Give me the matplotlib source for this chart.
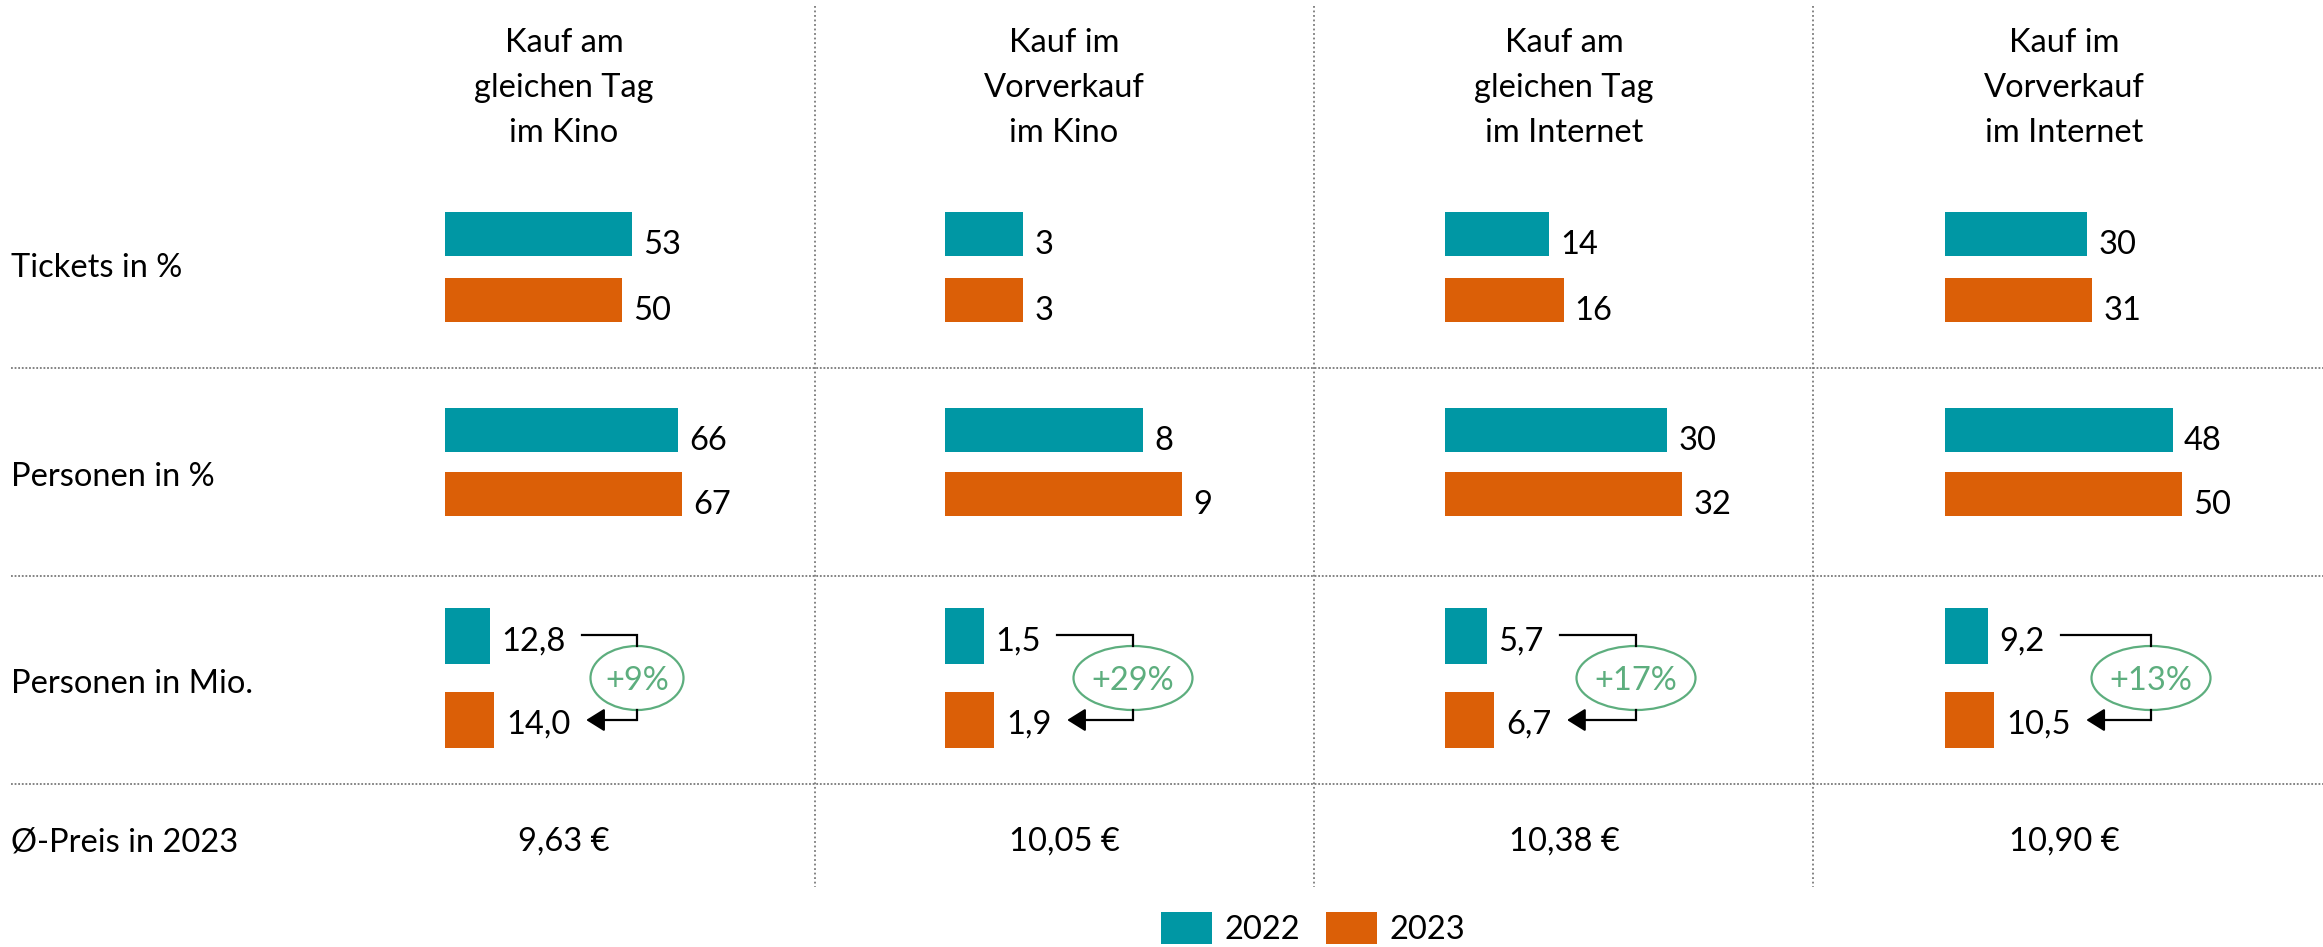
import matplotlib.pyplot as plt
from matplotlib.patches import Ellipse, Patch

plt.rcParams['font.family'] = ['Lato', 'DejaVu Sans']

W, H = 2323, 947

# data
headers = ['Kauf am\ngleichen Tag\nim Kino', 'Kauf im\nVorverkauf\nim Kino',
           'Kauf am\ngleichen Tag\nim Internet', 'Kauf im\nVorverkauf\nim Internet']
row_labels = ['Tickets in %', 'Personen in %', 'Personen in Mio.', 'Ø-Preis in 2023']
years = ['2022', '2023']
tickets_2022 = [53, 3, 14, 30]
tickets_2023 = [50, 3, 16, 31]
persons_2022 = [66, 7.6, 30, 48]
persons_2023 = [67, 9.1, 32, 50]
mio_2022 = [12.8, 1.5, 5.7, 9.2]
mio_2023 = [14.0, 1.9, 6.7, 10.5]
growth = [9, 29, 17, 13]
price_2023 = [9.63, 10.05, 10.38, 10.90]

TEAL = '#0097a4'
ORANGE = '#db5f07'
GREEN = '#5dae7e'
GRID = '#7a7a7a'
FS = 23.5


def de(v, nd):
    return f'{v:.{nd}f}'.replace('.', ',')


fig = plt.figure(figsize=(W / 100, H / 100), dpi=100)
ax = fig.add_axes([0, 0, 1, 1])
ax.set_xlim(0, W)
ax.set_ylim(H, 0)
ax.axis('off')


def px_axes(x0, y0, x1, y1):
    # axes over a pixel box, y counted from the top
    a = fig.add_axes([x0 / W, 1 - y1 / H, (x1 - x0) / W, (y1 - y0) / H])
    a.set_ylim(y1, y0)
    a.axis('off')
    return a


centers = [564, 1064, 1564, 2064]
corner_dx = [73, 69, 72, 87]
ell_w = [93, 119, 119, 119]

# grid
for y in [368, 576, 784]:
    ax.plot([11, W], [y, y], color=GRID, lw=1.3, ls=(0, (1, 1)))
for x in [815, 1314, 1813]:
    ax.plot([x, x], [6, 887], color=GRID, lw=1.3, ls=(0, (1, 1.5)))

# row labels
for lab, y in zip(row_labels, [277, 486, 693, 851]):
    ax.text(11, y, lab, ha='left', va='baseline', fontsize=FS)

mio_texts = []
for i, cx in enumerate(centers):
    for j, line in enumerate(headers[i].split('\n')):
        ax.text(cx, 52 + 45 * j, line, ha='center', va='baseline', fontsize=FS)

    left = cx - 119
    vals = [tickets_2022[i], tickets_2023[i], persons_2022[i], persons_2023[i]]
    ys = [234, 300, 430, 494]
    a = px_axes(left, 190, left + 330, 540)
    a.set_xlim(0, max(vals) * 330 / 237)
    a.barh(ys, vals, height=44, color=[TEAL, ORANGE, TEAL, ORANGE])
    for v, y in zip(vals, ys):
        a.annotate(f'{round(v)}', (v, y), xytext=(8, -14.4), textcoords='offset points',
                   va='baseline', fontsize=FS)

    mv = [mio_2022[i], mio_2023[i]]
    m = px_axes(left, 590, left + 80, 770)
    m.set_xlim(0, max(mv) * 80 / 49)
    m.barh([636, 720], mv, height=56, color=[TEAL, ORANGE])
    t1 = m.annotate(de(mv[0], 1), (mv[0], 636), xytext=(8.5, -10.5), textcoords='offset points',
                    va='baseline', fontsize=FS)
    t2 = m.annotate(de(mv[1], 1), (mv[1], 720), xytext=(8.5, -9.5), textcoords='offset points',
                    va='baseline', fontsize=FS)
    mio_texts.append((t1, t2))

    ax.text(cx, 851, de(price_2023[i], 2) + ' €', ha='center', va='baseline', fontsize=FS)

# growth brackets, placed after the text sizes are known
fig.canvas.draw()
r = fig.canvas.get_renderer()
inv = ax.transData.inverted()
for i, cx in enumerate(centers):
    t1, t2 = mio_texts[i]
    e1 = inv.transform((t1.get_window_extent(r).x1, 0))[0]
    e2 = inv.transform((t2.get_window_extent(r).x1, 0))[0]
    c = cx + corner_dx[i]
    ax.plot([e1 + 16, c, c], [635, 635, 646], color='black', lw=1.6, solid_joinstyle='miter')
    ax.plot([c, c], [710, 720], color='black', lw=1.6)
    ax.annotate('', xy=(e2 + 16, 720), xytext=(c - 0.8, 720),
                arrowprops=dict(arrowstyle='-|>,head_length=0.4,head_width=0.25', mutation_scale=28,
                                color='black', lw=1.6, shrinkA=0, shrinkB=0))
    ax.add_patch(Ellipse((c, 678), ell_w[i], 64, fill=False, edgecolor=GREEN, lw=1.6))
    ax.text(c, 690, f'+{growth[i]}%', ha='center', va='baseline', color=GREEN, fontsize=FS)

handles = [Patch(facecolor=TEAL), Patch(facecolor=ORANGE)]
fig.legend(handles, years, loc='lower left', bbox_to_anchor=(1161 / W, 2 / H), ncol=2,
           frameon=False, fontsize=FS, handlelength=1.56, handleheight=1.13,
           handletextpad=0.4, columnspacing=0.77, borderpad=0, borderaxespad=0)

fig.savefig('out.png', dpi=100)
